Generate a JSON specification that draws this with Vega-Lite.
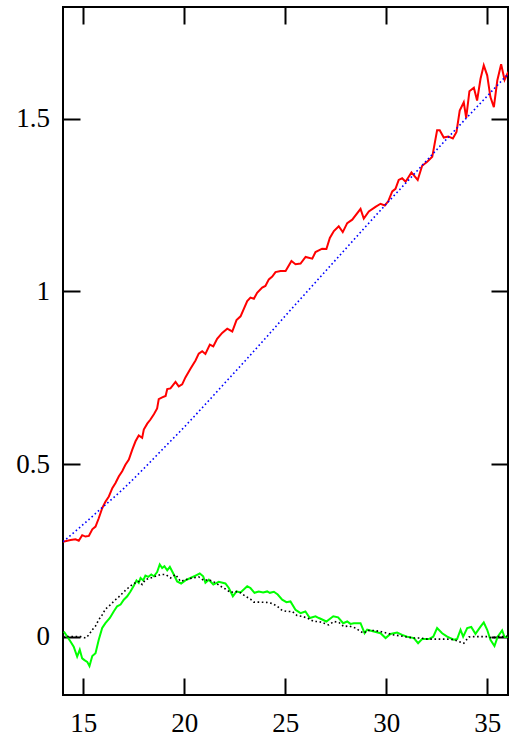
{
  "$schema": "https://vega.github.io/schema/vega-lite/v6.json",
  "width": 445,
  "height": 688,
  "autosize": "none",
  "padding": {"left": 63, "top": 7, "right": 7, "bottom": 47},
  "background": "white",
  "config": {
    "view": {"stroke": "black", "strokeWidth": 2},
    "axis": {
      "domain": false,
      "grid": false,
      "ticks": true,
      "tickSize": -17,
      "tickWidth": 2,
      "tickColor": "black",
      "labelFont": "Liberation Serif",
      "labelFontSize": 27,
      "labelColor": "black",
      "title": null
    }
  },
  "datasets": {
    "red": [
      {"x":14.0,"y":0.275},{"x":14.37,"y":0.28},{"x":14.62,"y":0.282},{"x":14.78,"y":0.278},{"x":14.95,"y":0.294},{"x":15.11,"y":0.29},{"x":15.28,"y":0.292},{"x":15.45,"y":0.311},{"x":15.61,"y":0.319},{"x":15.77,"y":0.343},{"x":15.94,"y":0.372},{"x":16.1,"y":0.391},{"x":16.27,"y":0.406},{"x":16.44,"y":0.43},{"x":16.6,"y":0.445},{"x":16.76,"y":0.464},{"x":16.93,"y":0.479},{"x":17.09,"y":0.498},{"x":17.26,"y":0.513},{"x":17.43,"y":0.542},{"x":17.59,"y":0.566},{"x":17.75,"y":0.583},{"x":17.92,"y":0.576},{"x":18.0,"y":0.6},{"x":18.17,"y":0.617},{"x":18.33,"y":0.629},{"x":18.5,"y":0.644},{"x":18.66,"y":0.661},{"x":18.74,"y":0.688},{"x":18.91,"y":0.693},{"x":19.08,"y":0.697},{"x":19.16,"y":0.717},{"x":19.32,"y":0.719},{"x":19.57,"y":0.738},{"x":19.73,"y":0.725},{"x":19.9,"y":0.731},{"x":20.06,"y":0.751},{"x":20.31,"y":0.776},{"x":20.56,"y":0.8},{"x":20.72,"y":0.82},{"x":20.89,"y":0.827},{"x":21.05,"y":0.819},{"x":21.27,"y":0.846},{"x":21.44,"y":0.841},{"x":21.63,"y":0.863},{"x":21.88,"y":0.88},{"x":22.13,"y":0.892},{"x":22.38,"y":0.884},{"x":22.59,"y":0.917},{"x":22.79,"y":0.928},{"x":23.12,"y":0.972},{"x":23.28,"y":0.982},{"x":23.45,"y":0.979},{"x":23.61,"y":0.996},{"x":23.86,"y":1.011},{"x":24.02,"y":1.016},{"x":24.19,"y":1.035},{"x":24.36,"y":1.043},{"x":24.52,"y":1.056},{"x":24.77,"y":1.059},{"x":25.02,"y":1.059},{"x":25.31,"y":1.088},{"x":25.51,"y":1.079},{"x":25.76,"y":1.081},{"x":26.01,"y":1.1},{"x":26.34,"y":1.095},{"x":26.5,"y":1.114},{"x":26.83,"y":1.124},{"x":27.04,"y":1.123},{"x":27.21,"y":1.155},{"x":27.41,"y":1.175},{"x":27.65,"y":1.189},{"x":27.85,"y":1.172},{"x":28.07,"y":1.198},{"x":28.32,"y":1.208},{"x":28.73,"y":1.239},{"x":28.89,"y":1.211},{"x":29.14,"y":1.232},{"x":29.47,"y":1.245},{"x":29.72,"y":1.254},{"x":29.93,"y":1.249},{"x":30.1,"y":1.261},{"x":30.3,"y":1.29},{"x":30.46,"y":1.297},{"x":30.62,"y":1.323},{"x":30.79,"y":1.328},{"x":30.96,"y":1.318},{"x":31.25,"y":1.345},{"x":31.56,"y":1.323},{"x":31.78,"y":1.364},{"x":32.03,"y":1.376},{"x":32.28,"y":1.39},{"x":32.52,"y":1.467},{"x":32.65,"y":1.467},{"x":32.85,"y":1.446},{"x":33.07,"y":1.449},{"x":33.3,"y":1.443},{"x":33.48,"y":1.462},{"x":33.64,"y":1.524},{"x":33.84,"y":1.548},{"x":33.96,"y":1.503},{"x":34.12,"y":1.58},{"x":34.34,"y":1.59},{"x":34.5,"y":1.553},{"x":34.67,"y":1.616},{"x":34.83,"y":1.655},{"x":35.0,"y":1.626},{"x":35.16,"y":1.563},{"x":35.33,"y":1.534},{"x":35.5,"y":1.611},{"x":35.69,"y":1.658},{"x":35.86,"y":1.613},{"x":36.04,"y":1.636}
    ],
    "blue": [
      {"x":14,"y":0.275},{"x":15,"y":0.325},{"x":16,"y":0.377},{"x":17,"y":0.429},{"x":18,"y":0.487},{"x":19,"y":0.547},{"x":20,"y":0.607},{"x":21,"y":0.67},{"x":22,"y":0.734},{"x":23,"y":0.798},{"x":24,"y":0.863},{"x":25,"y":0.929},{"x":26,"y":0.994},{"x":27,"y":1.059},{"x":28,"y":1.124},{"x":29,"y":1.189},{"x":30,"y":1.253},{"x":31,"y":1.316},{"x":32,"y":1.379},{"x":33,"y":1.442},{"x":34,"y":1.504},{"x":35,"y":1.566},{"x":36,"y":1.628}
    ],
    "green": [
      {"x":14.04,"y":0.015},{"x":14.21,"y":0.0},{"x":14.37,"y":-0.014},{"x":14.53,"y":-0.029},{"x":14.7,"y":-0.058},{"x":14.83,"y":-0.038},{"x":14.95,"y":-0.063},{"x":15.06,"y":-0.068},{"x":15.2,"y":-0.073},{"x":15.31,"y":-0.085},{"x":15.45,"y":-0.056},{"x":15.61,"y":-0.048},{"x":15.77,"y":-0.009},{"x":15.94,"y":0.025},{"x":16.1,"y":0.039},{"x":16.32,"y":0.054},{"x":16.51,"y":0.073},{"x":16.68,"y":0.088},{"x":16.85,"y":0.093},{"x":17.01,"y":0.107},{"x":17.18,"y":0.117},{"x":17.34,"y":0.131},{"x":17.51,"y":0.148},{"x":17.64,"y":0.163},{"x":17.75,"y":0.156},{"x":17.84,"y":0.17},{"x":17.97,"y":0.163},{"x":18.08,"y":0.177},{"x":18.22,"y":0.173},{"x":18.37,"y":0.18},{"x":18.5,"y":0.175},{"x":18.66,"y":0.187},{"x":18.79,"y":0.209},{"x":18.91,"y":0.199},{"x":19.02,"y":0.204},{"x":19.16,"y":0.192},{"x":19.29,"y":0.202},{"x":19.46,"y":0.183},{"x":19.65,"y":0.16},{"x":19.85,"y":0.154},{"x":20.06,"y":0.163},{"x":20.31,"y":0.17},{"x":20.56,"y":0.177},{"x":20.77,"y":0.183},{"x":20.94,"y":0.175},{"x":21.05,"y":0.156},{"x":21.22,"y":0.165},{"x":21.44,"y":0.151},{"x":21.71,"y":0.159},{"x":22.04,"y":0.154},{"x":22.21,"y":0.141},{"x":22.41,"y":0.117},{"x":22.59,"y":0.131},{"x":22.79,"y":0.128},{"x":23.12,"y":0.146},{"x":23.28,"y":0.141},{"x":23.48,"y":0.127},{"x":23.69,"y":0.131},{"x":23.91,"y":0.128},{"x":24.11,"y":0.131},{"x":24.24,"y":0.127},{"x":24.44,"y":0.13},{"x":24.63,"y":0.122},{"x":24.85,"y":0.107},{"x":25.06,"y":0.1},{"x":25.26,"y":0.102},{"x":25.51,"y":0.078},{"x":25.76,"y":0.068},{"x":26.0,"y":0.073},{"x":26.22,"y":0.054},{"x":26.5,"y":0.059},{"x":26.67,"y":0.054},{"x":27.04,"y":0.044},{"x":27.38,"y":0.059},{"x":27.62,"y":0.056},{"x":27.87,"y":0.039},{"x":28.07,"y":0.044},{"x":28.23,"y":0.037},{"x":28.4,"y":0.039},{"x":28.73,"y":0.039},{"x":28.93,"y":0.01},{"x":29.06,"y":0.02},{"x":29.39,"y":0.015},{"x":29.72,"y":0.01},{"x":29.97,"y":-0.004},{"x":30.21,"y":0.008},{"x":30.54,"y":0.012},{"x":30.79,"y":0.005},{"x":31.04,"y":0.0},{"x":31.37,"y":-0.004},{"x":31.58,"y":-0.019},{"x":31.78,"y":-0.007},{"x":32.11,"y":-0.007},{"x":32.33,"y":0.0},{"x":32.52,"y":0.025},{"x":32.77,"y":0.01},{"x":33.02,"y":0.0},{"x":33.35,"y":-0.009},{"x":33.51,"y":-0.007},{"x":33.68,"y":0.02},{"x":33.81,"y":0.0},{"x":34.01,"y":0.025},{"x":34.21,"y":0.028},{"x":34.42,"y":0.008},{"x":34.67,"y":0.029},{"x":34.83,"y":0.041},{"x":35.0,"y":0.02},{"x":35.16,"y":-0.009},{"x":35.36,"y":-0.027},{"x":35.52,"y":0.0},{"x":35.74,"y":0.018},{"x":35.86,"y":-0.001},{"x":36.03,"y":0.0}
    ],
    "black": [
      {"x":14.0,"y":0.0},{"x":14.37,"y":0.0},{"x":14.87,"y":0.0},{"x":15.11,"y":-0.004},{"x":15.28,"y":0.005},{"x":15.45,"y":0.02},{"x":15.61,"y":0.031},{"x":15.77,"y":0.049},{"x":15.94,"y":0.063},{"x":16.1,"y":0.08},{"x":16.27,"y":0.088},{"x":16.44,"y":0.098},{"x":16.6,"y":0.107},{"x":16.76,"y":0.115},{"x":16.93,"y":0.125},{"x":17.09,"y":0.134},{"x":17.26,"y":0.143},{"x":17.43,"y":0.151},{"x":17.59,"y":0.156},{"x":17.76,"y":0.16},{"x":17.92,"y":0.151},{"x":18.08,"y":0.165},{"x":18.33,"y":0.17},{"x":18.58,"y":0.175},{"x":18.83,"y":0.18},{"x":19.08,"y":0.18},{"x":19.33,"y":0.17},{"x":19.57,"y":0.18},{"x":19.82,"y":0.16},{"x":20.06,"y":0.165},{"x":20.4,"y":0.17},{"x":20.72,"y":0.173},{"x":20.97,"y":0.163},{"x":21.22,"y":0.165},{"x":21.55,"y":0.156},{"x":21.8,"y":0.146},{"x":22.04,"y":0.138},{"x":22.29,"y":0.128},{"x":22.54,"y":0.131},{"x":22.79,"y":0.127},{"x":23.03,"y":0.117},{"x":23.28,"y":0.109},{"x":23.45,"y":0.1},{"x":23.78,"y":0.1},{"x":24.11,"y":0.099},{"x":24.36,"y":0.096},{"x":24.61,"y":0.088},{"x":24.85,"y":0.076},{"x":25.1,"y":0.073},{"x":25.35,"y":0.073},{"x":25.59,"y":0.061},{"x":25.84,"y":0.059},{"x":26.09,"y":0.054},{"x":26.42,"y":0.044},{"x":26.67,"y":0.044},{"x":26.92,"y":0.039},{"x":27.16,"y":0.034},{"x":27.41,"y":0.044},{"x":27.66,"y":0.041},{"x":27.9,"y":0.029},{"x":28.15,"y":0.031},{"x":28.48,"y":0.025},{"x":28.73,"y":0.015},{"x":28.89,"y":0.01},{"x":29.06,"y":0.018},{"x":29.39,"y":0.018},{"x":29.72,"y":0.015},{"x":30.05,"y":0.01},{"x":30.38,"y":0.005},{"x":30.71,"y":0.002},{"x":31.04,"y":-0.001},{"x":31.37,"y":-0.004},{"x":31.7,"y":-0.004},{"x":32.03,"y":-0.007},{"x":32.36,"y":-0.007},{"x":32.69,"y":-0.007},{"x":33.02,"y":-0.007},{"x":33.35,"y":-0.009},{"x":33.6,"y":-0.014},{"x":33.84,"y":-0.019},{"x":34.09,"y":-0.001},{"x":34.34,"y":0.0},{"x":34.67,"y":0.0},{"x":35.0,"y":0.0},{"x":35.24,"y":-0.004},{"x":35.5,"y":0.0},{"x":35.82,"y":0.0},{"x":36.03,"y":0.002}
    ]
  },
  "layer": [
    {
      "data": {"name": "red"},
      "mark": {"type": "line", "color": "#ff0000", "strokeWidth": 2, "clip": true},
      "encoding": {
        "x": {"field": "x", "type": "quantitative", "scale": {"domain": [14, 36.03], "nice": false, "zero": false},
          "axis": {"orient": "bottom", "values": [15, 20, 25, 30, 35], "format": "d", "labelPadding": 32, "labelDx": 5.5}},
        "y": {"field": "y", "type": "quantitative", "scale": {"domain": [-0.169, 1.824], "nice": false, "zero": false},
          "axis": {"orient": "left", "values": [0, 0.5, 1, 1.5], "format": "~g", "labelPadding": 30.5, "labelDy": 5}}
      }
    },
    {
      "data": {"name": "blue"},
      "mark": {"type": "line", "color": "#0000ff", "strokeWidth": 1.6, "strokeDash": [1.6, 2.6], "clip": true, "interpolate": "monotone"},
      "encoding": {
        "x": {"field": "x", "type": "quantitative", "axis": {"orient": "top", "values": [15, 20, 25, 30, 35], "labels": false}},
        "y": {"field": "y", "type": "quantitative", "axis": {"orient": "right", "values": [0, 0.5, 1, 1.5], "labels": false}}
      }
    },
    {
      "data": {"name": "green"},
      "mark": {"type": "line", "color": "#00ff00", "strokeWidth": 2, "clip": true},
      "encoding": {
        "x": {"field": "x", "type": "quantitative", "axis": null},
        "y": {"field": "y", "type": "quantitative", "axis": null}
      }
    },
    {
      "data": {"name": "black"},
      "mark": {"type": "line", "color": "black", "strokeWidth": 1.6, "strokeDash": [1.6, 2.6], "clip": true},
      "encoding": {
        "x": {"field": "x", "type": "quantitative", "axis": null},
        "y": {"field": "y", "type": "quantitative", "axis": null}
      }
    }
  ],
  "resolve": {"axis": {"x": "independent", "y": "independent"}}
}
